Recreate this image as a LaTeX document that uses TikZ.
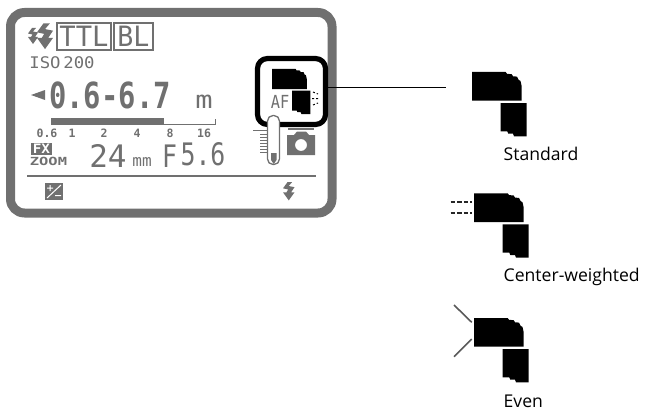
\documentclass[tikz,border=0pt]{standalone}
\usepackage{fontspec}
\setmainfont{Open Sans}
\newfontfamily\lcdfont{DejaVu Sans Mono}
\usetikzlibrary{positioning}
\definecolor{lcdgray}{HTML}{707070}
\tikzset{
  lcd/.style={text=lcdgray, inner sep=0pt, anchor=base, font=\lcdfont},
  caption/.style={inner sep=0pt, anchor=base west, font=\fontsize{17.6}{20}\selectfont},
  scalemark/.style={lcd, font=\lcdfont\bfseries\fontsize{11.5}{12}\selectfont},
  flashhead/.pic={
    \fill (0,0) -- (33.7,0) -- (35,1.8) -- (39.7,2.2) -- (41,4.3) -- (45,4.6) -- (46.5,7.7) -- (48.5,9) -- (49.7,14.3) -- (49.7,28.7) -- (0,28.7) -- cycle;
    \fill (28.7,31) -- (54.7,31) -- (54.7,64.3) -- (42,64.3) -- (41,61.7) -- (36.3,61.7) -- (35.3,59.3) -- (28.7,59.3) -- cycle;
  },
  flashbolt/.pic={
    \fill[lcdgray] (4,0) -- (8,0) -- (5,3.5) -- (10,4.5) -- (7,9) -- (10,9) -- (5,16) -- (0,9) -- (3,9) -- (4.5,6.5) -- (0,5.5) -- cycle;
  }
}
\begin{document}
\begin{tikzpicture}[x=1pt, y=-1pt]
  \useasboundingbox (0,0) rectangle (648,412);

  % panel
  \node[draw=lcdgray, line width=9pt, rounded corners=14pt, minimum width=321.5pt, minimum height=200.5pt, inner sep=0pt] (panel) at (171.25,112.75) {};

  % top row
  \pic at (28,28) {flashbolt};
  \pic[scale=1.6] at (37,23.5) {flashbolt};
  \node[draw=lcdgray, line width=1.2pt, minimum width=54pt, minimum height=27pt, inner sep=0pt] (ttlbox) at (84,36.5) {};
  \node[lcd, font=\lcdfont\fontsize{28}{28}\selectfont] (ttl) at (84,46.5) {\scalebox{.97}[1]{TTL}};
  \node[draw=lcdgray, line width=1.2pt, minimum width=39pt, minimum height=27pt, inner sep=0pt] (blbox) at (133.5,36.5) {};
  \node[lcd, font=\lcdfont\fontsize{28}{28}\selectfont] (bl) at (133.5,46.5) {\scalebox{.95}[1]{BL}};
  \node[lcd, font=\lcdfont\fontsize{16}{16}\selectfont] (iso) at (62,69) {\scalebox{1.08}[1]{ISO\,200}};

  % range
  \fill[lcdgray] (31,95) -- (45,90) -- (45,100) -- cycle;
  \node[lcd, font=\lcdfont\bfseries\fontsize{36}{36}\selectfont] (range) at (110,108) {\scalebox{.8}[1]{0.6-6.7}};
  \node[lcd, font=\lcdfont\fontsize{24}{24}\selectfont] (unit) at (204,108) {\scalebox{1.2}[1]{m}};

  % distance scale
  \fill[lcdgray] (51,118) rectangle (164,125);
  \draw[lcdgray, line width=1pt] (164,124) -- (215,124) -- (215,119);
  \node[scalemark] (s0) at (47,137) {0.6};
  \node[scalemark] (s1) at (72,137) {1};
  \node[scalemark] (s2) at (104,137) {2};
  \node[scalemark] (s4) at (137,137) {4};
  \node[scalemark] (s8) at (170,137) {8};
  \node[scalemark] (s16) at (204,137) {16};

  % zoom row
  \node[fill=lcdgray, minimum width=21pt, minimum height=12pt, inner sep=0pt] (fxbox) at (41.5,149) {};
  \node[lcd, text=white, font=\lcdfont\bfseries\fontsize{13}{13}\selectfont] (fx) at (41.5,153.5) {\scalebox{1.1}[1]{FX}};
  \node[lcd, font=\lcdfont\bfseries\fontsize{14}{14}\selectfont] (zoom) at (48.5,165) {\scalebox{1.1}[.8]{ZOOM}};
  \node[lcd, font=\lcdfont\fontsize{31}{31}\selectfont] (focal) at (108,167) {24};
  \node[lcd, font=\lcdfont\fontsize{16}{16}\selectfont] (mm) at (142,166) {mm};
  \node[lcd, font=\lcdfont\fontsize{31}{31}\selectfont] (fnum) at (169.5,167) {\scalebox{.8}[1]{F}};
  \node[lcd, font=\lcdfont\fontsize{31}{31}\selectfont] (aperture) at (203,165) {\scalebox{.8}[1]{5.6}};

  % bottom row
  \draw[lcdgray, line width=1.2pt] (27,176) -- (316,176);
  \fill[lcdgray] (45,183) rectangle (63,200);
  \draw[white, line width=1pt] (50,185) -- (50,191) (47,188) -- (53,188) (47,198) -- (61,185) (55,195.5) -- (61,195.5);
  \pic[scale=1.15] at (283,182) {flashbolt};

  % mode box
  \node[draw, line width=5.2pt, rounded corners=10pt, minimum width=68pt, minimum height=66pt, inner sep=0pt] (mode) at (291.5,91.5) {};
  \pic[scale=.7] at (272,69) {flashhead};
  \node[lcd, font=\lcdfont\fontsize{18}{18}\selectfont] (af) at (280,108) {\scalebox{.85}[1]{AF}};
  \draw[line width=1pt, dash pattern=on 2pt off 2pt] (313,92) -- (318,94) (312,98.5) -- (318,98.5) (313,105) -- (318,103);

  % thermometer
  \node[draw=lcdgray, line width=1.3pt, fill=white, rounded corners=5.5pt, minimum width=12pt, minimum height=49pt, inner sep=0pt] (thermo) at (273.5,140) {};
  \fill[lcdgray] (271,153) -- (276.5,153) -- (276.5,160) -- (273.7,164) -- (271,160) -- cycle;
  \draw[lcdgray, line width=1pt] (253,130) -- (267,130);
  \foreach \y in {134,137,140,143,146,149,152}
    \draw[lcdgray, line width=1pt] (260,\y) -- (267,\y);

  % camera
  \draw[lcdgray, line width=1.2pt] (288,129) -- (314,129);
  \fill[lcdgray, even odd rule] (287,135) -- (294,135) -- (297,131.5) -- (306,131.5) -- (309,135) -- (315,135) -- (315,155) -- (287,155) -- cycle (301,145) circle[radius=6];

  % callout
  \coordinate (callend) at (446,87);
  \draw[line width=.8pt] (mode.east |- callend) -- (callend);

  % variants
  \pic at (472,72) {flashhead};
  \node[caption] (standard) at (503.5,160.7) {Standard};

  \pic at (474,193.3) {flashhead};
  \draw[black!85, line width=2.2pt, dash pattern=on 4.5pt off 2pt] (450.7,202.3) -- (471.7,202.3);
  \draw[black!85, line width=2.2pt, dash pattern=on 4.5pt off 2pt] (450.7,212.7) -- (471.7,212.7);
  \node[caption] (center) at (503.5,281.7) {Center-weighted};

  \pic at (474,318) {flashhead};
  \coordinate (rayupper) at (454,305);
  \coordinate (raylower) at (454,356.7);
  \draw[black!65, line width=1.6pt] (rayupper) -- (471.7,322.3);
  \draw[black!65, line width=1.6pt] (raylower) -- (471.7,339);
  \node[caption] (even) at (503.5,407.6) {Even};
\end{tikzpicture}
\end{document}
